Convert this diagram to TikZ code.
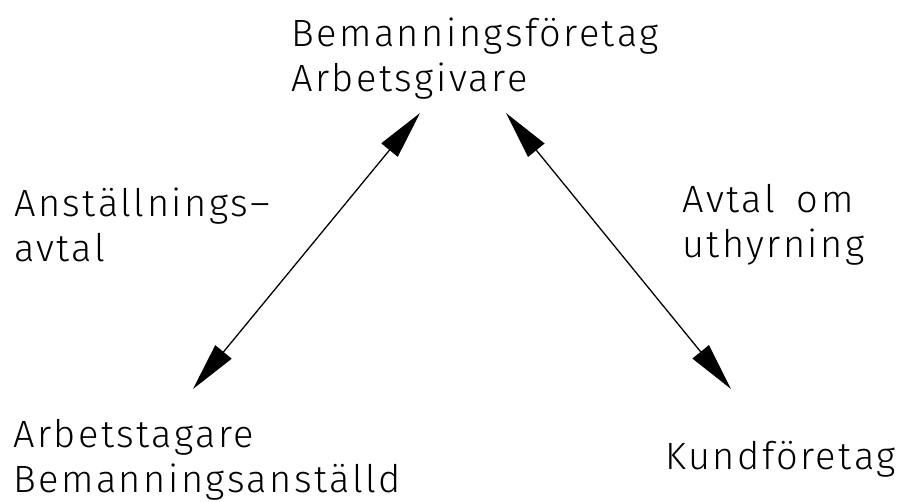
\documentclass[tikz,border=0pt]{standalone}
\usepackage{fontspec}
\usetikzlibrary{arrows.meta}
\IfFontExistsTF{Fira Sans Light}{\setmainfont{Fira Sans Light}[LetterSpace=6.5]}{\setmainfont{Liberation Sans}[LetterSpace=6.5]}
\begin{document}
\begin{tikzpicture}[x=1pt,y=-1pt,
  lbl/.style={anchor=base west,align=left,inner sep=0pt,font=\fontsize{38}{45}\selectfont},
  dbl/.style={line width=1.3pt,{Triangle[length=48pt,width=21pt]}-{Triangle[length=48pt,width=21pt]}}]
\useasboundingbox (0,0) rectangle (900,501);
\node[lbl] (top) at (291,91) {Bemanningsföretag\\Arbetsgivare};
\node[lbl] (lm) at (14,261) {Anställnings--\\avtal};
\node[lbl] (rm) at (682,257) {Avtal\hspace{22pt}om\\uthyrning};
\node[lbl] (bl) at (13,492) {Arbetstagare\\Bemanningsanställd};
\node[lbl] (br) at (665,469) {Kundföretag};
\coordinate (a1) at (193,389);
\coordinate (a2) at (420,113);
\coordinate (b1) at (506,113);
\coordinate (b2) at (731,389);
\draw[dbl] (a1) -- (a2);
\draw[dbl] (b1) -- (b2);
\end{tikzpicture}
\end{document}
